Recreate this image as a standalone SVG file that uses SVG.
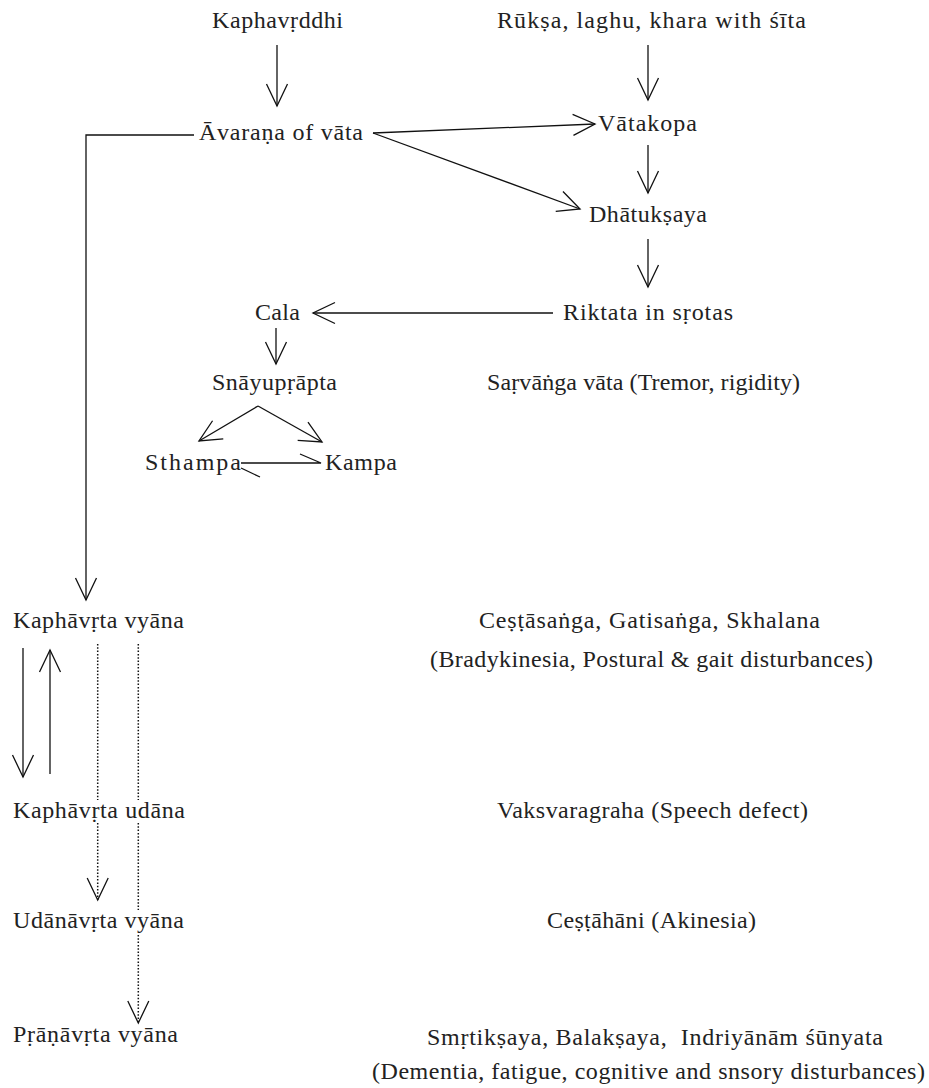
<svg xmlns="http://www.w3.org/2000/svg" width="929" height="1088" viewBox="0 0 929 1088">
<style>
text{font-family:"Liberation Serif","DejaVu Serif",serif;font-size:24px;fill:#222}
.c{fill:none;stroke:#111;stroke-width:1.3}
.d{fill:none;stroke:#111;stroke-width:1.5;stroke-dasharray:1.5 1.8}
</style>
<defs>
<marker id="a" markerUnits="userSpaceOnUse" markerWidth="30" markerHeight="30" viewBox="-26 -13 30 26" refX="0" refY="0" orient="auto" overflow="visible">
<path d="M-22,-10.5 L0,0 L-22,10.5" fill="none" stroke="#111" stroke-width="1.3"/>
</marker>
</defs>
<rect width="929" height="1088" fill="#fff"/>
<g id="connectors">
<line class="c" x1="277" y1="45" x2="277" y2="106" marker-end="url(#a)"/>
<line class="c" x1="648" y1="45" x2="648" y2="100" marker-end="url(#a)"/>
<polyline class="c" points="194,135 86,135 86,600" marker-end="url(#a)"/>
<line class="c" x1="373" y1="133" x2="595" y2="124" marker-end="url(#a)"/>
<line class="c" x1="373" y1="133" x2="580" y2="209" marker-end="url(#a)"/>
<line class="c" x1="648" y1="145" x2="648" y2="193" marker-end="url(#a)"/>
<line class="c" x1="648" y1="239" x2="648" y2="287" marker-end="url(#a)"/>
<line class="c" x1="553" y1="313" x2="313" y2="313" marker-end="url(#a)"/>
<line class="c" x1="276" y1="328" x2="276" y2="364" marker-end="url(#a)"/>
<line class="c" x1="258" y1="406" x2="199" y2="441" marker-end="url(#a)"/>
<line class="c" x1="258" y1="406" x2="322" y2="442" marker-end="url(#a)"/>
<polyline class="c" points="241,463 321,463 300,454"/>
<line class="c" x1="241" y1="468" x2="260" y2="477"/>
<line class="c" x1="23" y1="648" x2="23" y2="777" marker-end="url(#a)"/>
<line class="c" x1="50" y1="774" x2="50" y2="650" marker-end="url(#a)"/>
<line class="d" x1="97.7" y1="644" x2="97.7" y2="800"/>
<line class="d" x1="97.7" y1="823" x2="97.7" y2="900" marker-end="url(#a)"/>
<line class="d" x1="138.3" y1="644" x2="138.3" y2="800"/>
<line class="d" x1="138.3" y1="823" x2="138.3" y2="910"/>
<line class="d" x1="138.3" y1="935" x2="138.3" y2="1023" marker-end="url(#a)"/>
</g>
<g id="n-kaphavrddhi"><text x="212" y="28" textLength="131" lengthAdjust="spacing">Kaphavṛddhi</text></g>
<g id="n-ruksa"><text x="497" y="28" textLength="309" lengthAdjust="spacing">Rūkṣa, laghu, khara with śīta</text></g>
<g id="n-avarana"><text x="199" y="140" textLength="164" lengthAdjust="spacing">Āvaraṇa of vāta</text></g>
<g id="n-vatakopa"><text x="598" y="131" textLength="99" lengthAdjust="spacing">Vātakopa</text></g>
<g id="n-dhatuksaya"><text x="589" y="222" textLength="118" lengthAdjust="spacing">Dhātukṣaya</text></g>
<g id="n-riktata"><text x="563" y="320" textLength="170" lengthAdjust="spacing">Riktata in sṛotas</text></g>
<g id="n-cala"><text x="255" y="320" textLength="45" lengthAdjust="spacing">Cala</text></g>
<g id="n-snayuprapta"><text x="212" y="390" textLength="125" lengthAdjust="spacing">Snāyupṛāpta</text></g>
<g id="n-sarvanga"><text x="487" y="390" textLength="313" lengthAdjust="spacing">Saṛvāṅga vāta (Tremor, rigidity)</text></g>
<g id="n-sthampa"><text x="145" y="470" textLength="96" lengthAdjust="spacing">Sthampa</text></g>
<g id="n-kampa"><text x="325" y="470" textLength="72" lengthAdjust="spacing">Kampa</text></g>
<g id="n-kv-vyana"><text x="13" y="628" textLength="171" lengthAdjust="spacing">Kaphāvṛta vyāna</text></g>
<g id="n-cestasanga">
<text x="479" y="628" textLength="341" lengthAdjust="spacing">Ceṣṭāsaṅga, Gatisaṅga, Skhalana</text>
<text x="430" y="667" textLength="443" lengthAdjust="spacing">(Bradykinesia, Postural &amp; gait disturbances)</text>
</g>
<g id="n-kv-udana"><text x="13" y="818" textLength="172" lengthAdjust="spacing">Kaphāvṛta udāna</text></g>
<g id="n-vaksvaragraha"><text x="497" y="818" textLength="311" lengthAdjust="spacing">Vaksvaragraha (Speech defect)</text></g>
<g id="n-udanavrta"><text x="13" y="928" textLength="171" lengthAdjust="spacing">Udānāvṛta vyāna</text></g>
<g id="n-cestahani"><text x="547" y="928" textLength="209" lengthAdjust="spacing">Ceṣṭāhāni (Akinesia)</text></g>
<g id="n-pranavrta"><text x="13" y="1042" textLength="165" lengthAdjust="spacing">Pṛāṇāvṛta vyāna</text></g>
<g id="n-smrtiksaya">
<text x="427" y="1045" textLength="456" lengthAdjust="spacing" xml:space="preserve">Smṛtikṣaya, Balakṣaya,  Indriyānām śūnyata</text>
<text x="372" y="1079" textLength="553" lengthAdjust="spacing">(Dementia, fatigue, cognitive and snsory disturbances)</text>
</g>
</svg>
